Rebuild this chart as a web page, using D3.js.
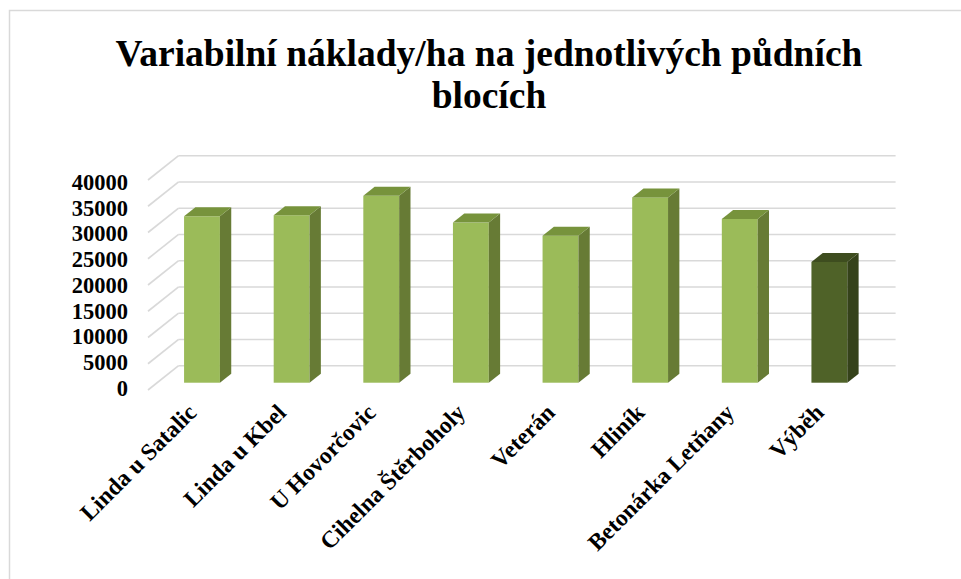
<!DOCTYPE html>
<html>
<head>
<meta charset="utf-8">
<script src="https://cdn.jsdelivr.net/npm/d3@7"></script>
<style>
  body { margin: 0; background: #fff; }
  text { font-family: "Liberation Serif", "Times New Roman", serif; font-weight: bold; fill: #000; }
</style>
</head>
<body>
<div id="chart"></div>
<script>
// data
var categories = ["Linda u Satalic", "Linda u Kbel", "U Hovorčovic", "Cihelna Štěrboholy",
                  "Veterán", "Hliník", "Betonárka Letňany", "Výběh"];
var values = [31700, 31900, 35600, 30500, 28000, 35300, 31200, 23000];
var highlight = ["Výběh"];
var yTicks = [0, 5000, 10000, 15000, 20000, 25000, 30000, 35000, 40000];
var titleLines = ["Variabilní náklady/ha na jednotlivých půdních", "blocích"];

var width = 961, height = 579;

// oblique 3d: depth vector of the floor, bars sit between f0 and f1
var DX = 30.6, DY = -24.3, f0 = 0.3, f1 = 0.67;

var svg = d3.select("#chart").append("svg")
    .attr("width", width)
    .attr("height", height);

// chart area border
svg.append("rect")
    .attr("x", 9.5).attr("y", 10.5)
    .attr("width", 960).attr("height", 600)
    .style("fill", "none")
    .style("stroke", "#d9d9d9")
    .style("stroke-width", 1.5);

var x = d3.scaleBand()
    .domain(categories)
    .range([148, 865])
    .paddingInner(0.6)
    .paddingOuter(0.3);

var y = d3.scaleLinear()
    .domain([0, 40000])
    .range([390, 180]);

// labels sit a bit tighter than the front plane
var yLab = y.copy().range([388, 182]);

// gridlines: back wall + left side diagonal
var grid = svg.append("g");
grid.selectAll("line.back")
    .data(yTicks)
    .enter()
    .append("line")
    .attr("class", "back")
    .attr("x1", x.range()[0] + DX)
    .attr("x2", x.range()[1] + DX)
    .attr("y1", function(d){ return y(d) + DY; })
    .attr("y2", function(d){ return y(d) + DY; });
grid.selectAll("line.side")
    .data(yTicks)
    .enter()
    .append("line")
    .attr("class", "side")
    .attr("x1", x.range()[0])
    .attr("x2", x.range()[0] + DX)
    .attr("y1", function(d){ return y(d); })
    .attr("y2", function(d){ return y(d) + DY; });
grid.selectAll("line")
    .style("stroke", "#d9d9d9")
    .style("stroke-width", 1.6);

// bars
var ox = f0 * DX, oy = f0 * DY,
    dx = (f1 - f0) * DX, dy = (f1 - f0) * DY,
    bw = x.bandwidth();

var colors = {
    normal: { front: "#9bbb59", side: "#677b35", top: "#77933c" },
    dark:   { front: "#4f6228", side: "#35421a", top: "#3e4d1f" }
};
function pal(c){ return highlight.indexOf(c) >= 0 ? colors.dark : colors.normal; }

var bars = svg.selectAll("g.bar")
    .data(categories.map(function(c, i){ return { cat: c, value: values[i] }; }))
    .enter()
    .append("g")
    .attr("class", "bar");

bars.append("rect")
    .attr("x", function(d){ return x(d.cat) + ox; })
    .attr("y", function(d){ return y(d.value) + oy; })
    .attr("width", bw)
    .attr("height", function(d){ return y(0) - y(d.value); })
    .style("fill", function(d){ return pal(d.cat).front; });

bars.append("path")
    .attr("d", function(d){
        var x0 = x(d.cat) + ox + bw, yt = y(d.value) + oy, yb = y(0) + oy;
        return "M" + x0 + "," + yt + "L" + (x0 + dx) + "," + (yt + dy) +
               "L" + (x0 + dx) + "," + (yb + dy) + "L" + x0 + "," + yb + "Z";
    })
    .style("fill", function(d){ return pal(d.cat).side; });

bars.append("path")
    .attr("d", function(d){
        var x0 = x(d.cat) + ox, yt = y(d.value) + oy;
        return "M" + x0 + "," + yt + "L" + (x0 + bw) + "," + yt +
               "L" + (x0 + bw + dx) + "," + (yt + dy) + "L" + (x0 + dx) + "," + (yt + dy) + "Z";
    })
    .style("fill", function(d){ return pal(d.cat).top; });

// y tick labels
svg.selectAll("text.ytick")
    .data(yTicks)
    .enter()
    .append("text")
    .attr("class", "ytick")
    .attr("x", 128)
    .attr("y", function(d){ return yLab(d); })
    .attr("dy", "0.35em")
    .style("text-anchor", "end")
    .style("font-size", "22.5px")
    .text(function(d){ return d; });

// category labels, rotated
svg.selectAll("text.xtick")
    .data(categories)
    .enter()
    .append("text")
    .attr("class", "xtick")
    .style("text-anchor", "end")
    .style("font-size", "23.5px")
    .attr("transform", function(d){
        return "translate(" + (x(d) + bw / 2 + 5) + "," + (y(0) + 24) + ") rotate(-45)";
    })
    .text(function(d){ return d; });

// title
svg.selectAll("text.title")
    .data(titleLines)
    .enter()
    .append("text")
    .attr("class", "title")
    .attr("x", 489)
    .attr("y", function(d, i){ return 66 + i * 42; })
    .style("text-anchor", "middle")
    .style("font-size", "37.5px")
    .text(function(d){ return d; });
</script>
</body>
</html>
